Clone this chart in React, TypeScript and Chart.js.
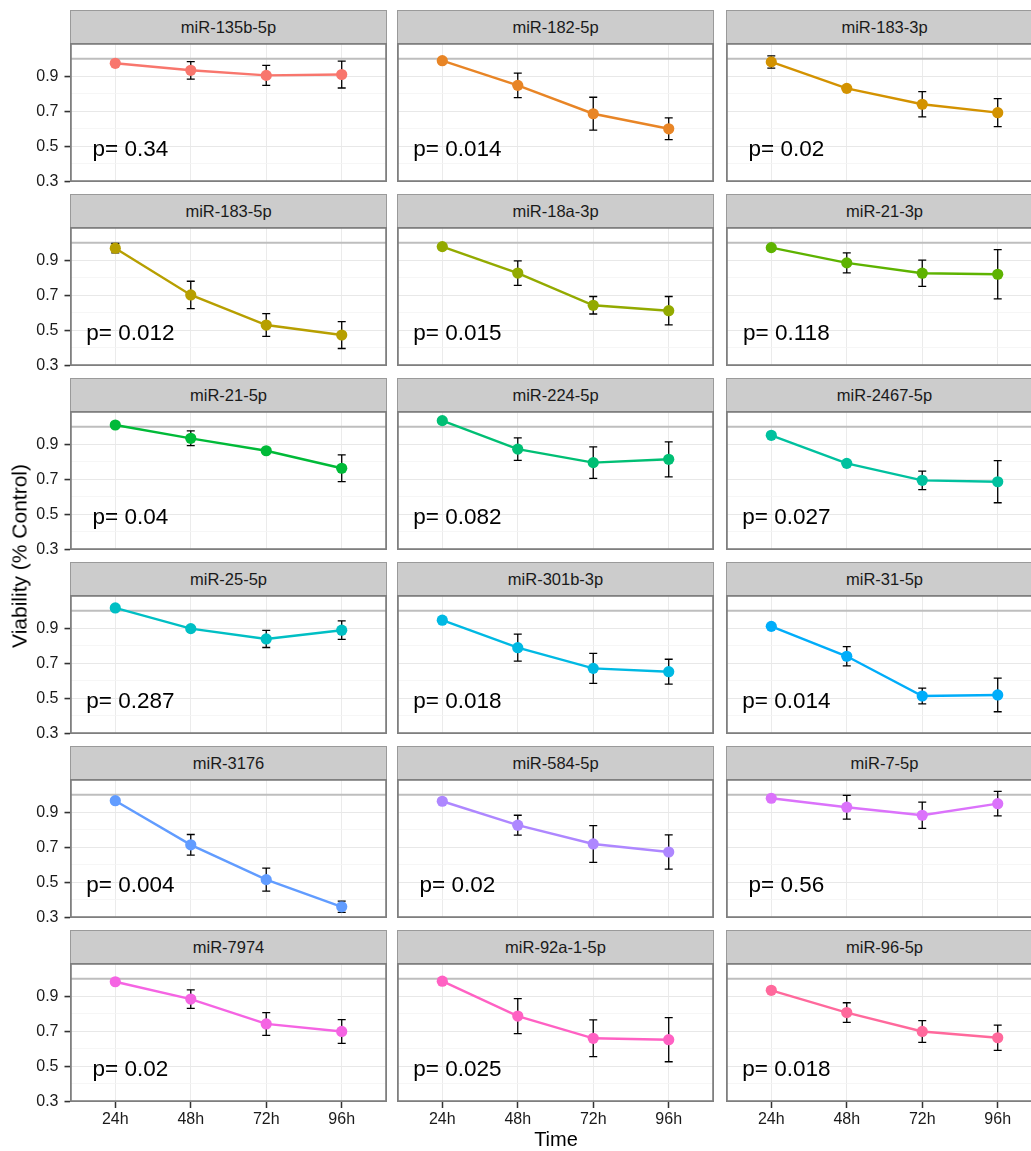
import React, { useEffect, useRef } from "react";
import { Chart, registerables } from "chart.js";

Chart.register(...registerables);

// ---------------- data ----------------
const timeLabels = ["24h", "48h", "72h", "96h"];

const mirNames = [
  "miR-135b-5p", "miR-182-5p", "miR-183-3p",
  "miR-183-5p", "miR-18a-3p", "miR-21-3p",
  "miR-21-5p", "miR-224-5p", "miR-2467-5p",
  "miR-25-5p", "miR-301b-3p", "miR-31-5p",
  "miR-3176", "miR-584-5p", "miR-7-5p",
  "miR-7974", "miR-92a-1-5p", "miR-96-5p",
];

const pLabels = [
  "0.34", "0.014", "0.02",
  "0.012", "0.015", "0.118",
  "0.04", "0.082", "0.027",
  "0.287", "0.018", "0.014",
  "0.004", "0.02", "0.56",
  "0.02", "0.025", "0.018",
];

const meanValues = [
  [0.974, 0.934, 0.905, 0.91],
  [0.989, 0.848, 0.686, 0.6],
  [0.982, 0.831, 0.74, 0.692],
  [0.969, 0.702, 0.53, 0.473],
  [0.978, 0.827, 0.643, 0.612],
  [0.972, 0.885, 0.826, 0.82],
  [1.01, 0.934, 0.863, 0.763],
  [1.035, 0.872, 0.795, 0.814],
  [0.951, 0.791, 0.694, 0.686],
  [1.016, 0.898, 0.839, 0.889],
  [0.946, 0.789, 0.671, 0.652],
  [0.911, 0.74, 0.513, 0.519],
  [0.966, 0.714, 0.515, 0.36],
  [0.963, 0.826, 0.719, 0.673],
  [0.98, 0.929, 0.883, 0.949],
  [0.983, 0.884, 0.742, 0.699],
  [0.986, 0.787, 0.66, 0.652],
  [0.934, 0.807, 0.699, 0.663],
];

const errValues = [
  [0.008, 0.05, 0.057, 0.077],
  [0.008, 0.07, 0.094, 0.062],
  [0.035, 0.008, 0.072, 0.08],
  [0.027, 0.078, 0.065, 0.077],
  [0.008, 0.07, 0.05, 0.081],
  [0.008, 0.057, 0.075, 0.141],
  [0.008, 0.042, 0.01, 0.076],
  [0.008, 0.064, 0.09, 0.1],
  [0.008, 0.01, 0.053, 0.12],
  [0.008, 0.01, 0.049, 0.053],
  [0.008, 0.077, 0.086, 0.071],
  [0.008, 0.055, 0.045, 0.096],
  [0.008, 0.059, 0.066, 0.032],
  [0.008, 0.057, 0.105, 0.098],
  [0.008, 0.068, 0.075, 0.07],
  [0.008, 0.053, 0.065, 0.068],
  [0.008, 0.1, 0.105, 0.126],
  [0.008, 0.056, 0.062, 0.072],
];

const yTickValues = [0.3, 0.4, 0.5, 0.6, 0.7, 0.8, 0.9, 1.0];
const yLabelValues = [0.3, 0.5, 0.7, 0.9];
const referenceLevel = 1.0;
const yTitle = "Viability (% Control)";
const xTitle = "Time";

// ---------------- style / layout ----------------
const FONT = '"Liberation Sans", Arial, Helvetica, sans-serif';
const PANEL_LEFT = [70, 397, 726];
const PANEL_W = 317;
const PANEL_H = 139;
const ROW_STEP = 184;
const STRIP_TOP0 = 10;
const STRIP_H = 33;
const Y_AXIS_W = 70;
const X_AXIS_H = 36;

// ggplot2 default hue palette (hcl, c=100, l=65)
function hcl(h: number, c: number, l: number): string {
  const hr = (h * Math.PI) / 180;
  const U = c * Math.cos(hr);
  const V = c * Math.sin(hr);
  const Y = l > 8 ? 100 * Math.pow((l + 16) / 116, 3) : (100 * l) / 903.3;
  const un = 0.1978398, vn = 0.4683363;
  const u = U / (13 * l) + un;
  const v = V / (13 * l) + vn;
  const X = (9 * Y * u) / (4 * v);
  const Z = -X / 3 - 5 * Y + (3 * Y) / v;
  const g = (x: number) => {
    const t = x > 0.00304 ? 1.055 * Math.pow(x, 1 / 2.4) - 0.055 : 12.92 * x;
    return Math.round(255 * Math.min(1, Math.max(0, t)));
  };
  const r = g((3.240479 * X - 1.53715 * Y - 0.498535 * Z) / 100);
  const gg = g((-0.969256 * X + 1.875992 * Y + 0.041556 * Z) / 100);
  const b = g((0.055648 * X - 0.204043 * Y + 1.057311 * Z) / 100);
  return `rgb(${r},${gg},${b})`;
}
function huePal(n: number): string[] {
  const out: string[] = [];
  const step = 360 / n;
  for (let i = 0; i < n; i++) out.push(hcl((15 + i * step) % 360, 100, 65));
  return out;
}
const seriesColors = huePal(mirNames.length);

const isMajor = (v: number) => yLabelValues.some((m) => Math.abs(m - v) < 1e-6);

const zeroPad = (s: any) => {
  s.paddingTop = 0;
  s.paddingBottom = 0;
  s.paddingLeft = 0;
  s.paddingRight = 0;
};

function Panel({ idx }: { idx: number }) {
  const ref = useRef<HTMLCanvasElement>(null);
  const row = Math.floor(idx / 3);
  const col = idx % 3;
  const firstCol = col === 0;
  const bottomRow = row === 5;

  useEffect(() => {
    const means = meanValues[idx];
    const errs = errValues[idx];
    const color = seriesColors[idx];

    const decor = {
      id: "decor",
      afterDatasetDraw(chart: any, args: any) {
        if (args.index !== 1) return;
        const xs = chart.scales.x;
        const ys = chart.scales.y;
        const ctx = chart.ctx;
        ctx.save();
        ctx.strokeStyle = "#000";
        ctx.lineWidth = 1.3;
        ctx.beginPath();
        means.forEach((m: number, i: number) => {
          const px = xs.getPixelForValue(i + 1);
          const t = ys.getPixelForValue(m + errs[i]);
          const b = ys.getPixelForValue(m - errs[i]);
          ctx.moveTo(px, t);
          ctx.lineTo(px, b);
          ctx.moveTo(px - 4, t);
          ctx.lineTo(px + 4, t);
          ctx.moveTo(px - 4, b);
          ctx.lineTo(px + 4, b);
        });
        ctx.stroke();
        ctx.restore();
      },
      afterDatasetsDraw(chart: any) {
        const xs = chart.scales.x;
        const ys = chart.scales.y;
        const ctx = chart.ctx;
        ctx.save();
        ctx.fillStyle = "#000";
        ctx.font = `22.5px ${FONT}`;
        ctx.textAlign = "center";
        ctx.textBaseline = "alphabetic";
        ctx.fillText("p= " + pLabels[idx], xs.getPixelForValue(1.2), ys.getPixelForValue(0.5) + 9.5);
        ctx.restore();
      },
      afterDraw(chart: any) {
        const a = chart.chartArea;
        const ctx = chart.ctx;
        ctx.save();
        ctx.strokeStyle = "#7F7F7F";
        ctx.lineWidth = 1.8;
        ctx.strokeRect(a.left + 0.9, a.top + 0.9, a.right - a.left - 1.8, a.bottom - a.top - 1.8);
        ctx.restore();
      },
    };

    const chart = new Chart(ref.current as HTMLCanvasElement, {
      type: "line",
      data: {
        datasets: [
          {
            data: means.map((m, i) => ({ x: i + 1, y: m })),
            borderColor: color,
            backgroundColor: color,
            pointBackgroundColor: color,
            pointBorderColor: color,
            borderWidth: 2.4,
            pointRadius: 5.6,
            pointBorderWidth: 0,
            order: 1,
          },
          {
            data: [
              { x: 0.4, y: referenceLevel },
              { x: 4.6, y: referenceLevel },
            ],
            borderColor: "#BEBEBE",
            borderWidth: 2.2,
            pointRadius: 0,
            order: 2,
          },
        ],
      } as any,
      options: {
        animation: false,
        responsive: false,
        events: [],
        layout: { padding: 0, autoPadding: false },
        plugins: { legend: { display: false }, tooltip: { enabled: false }, title: { display: false } },
        scales: {
          x: {
            type: "linear",
            min: 0.4,
            max: 4.6,
            afterBuildTicks: (s: any) => {
              s.ticks = timeLabels.map((_, i) => ({ value: i + 1 }));
            },
            afterFit: (s: any) => {
              s.height = X_AXIS_H;
              zeroPad(s);
            },
            border: { display: false },
            grid: {
              color: "#EBEBEB",
              lineWidth: 1,
              drawTicks: true,
              tickLength: 6,
              tickWidth: 1.5,
              tickColor: bottomRow ? "#333333" : "rgba(0,0,0,0)",
            },
            ticks: {
              display: bottomRow,
              autoSkip: false,
              maxRotation: 0,
              padding: 2,
              color: "#1A1A1A",
              font: { family: FONT, size: 16 },
              callback: (v: any) => timeLabels[Math.round(Number(v)) - 1] ?? "",
            },
          },
          y: {
            type: "linear",
            min: 0.296,
            max: 1.09,
            afterBuildTicks: (s: any) => {
              s.ticks = yTickValues.map((v) => ({ value: v }));
            },
            afterFit: (s: any) => {
              s.width = Y_AXIS_W;
              zeroPad(s);
            },
            border: { display: false },
            grid: {
              color: (c: any) => (c.tick && isMajor(c.tick.value) ? "#E8E8E8" : "#F4F4F4"),
              lineWidth: (c: any) => (c.tick && isMajor(c.tick.value) ? 1.1 : 0.8),
              drawTicks: true,
              tickLength: 5.5,
              tickWidth: 1.6,
              tickColor: (c: any) =>
                firstCol && c.tick && isMajor(c.tick.value) ? "#333333" : "rgba(0,0,0,0)",
            },
            ticks: {
              display: firstCol,
              autoSkip: false,
              padding: 6,
              color: "#1A1A1A",
              font: { family: FONT, size: 16 },
              callback: (v: any) => (isMajor(Number(v)) ? Number(v).toFixed(1) : ""),
            },
          },
        },
      } as any,
      plugins: [decor],
    });
    return () => chart.destroy();
  }, [idx]);

  return (
    <canvas
      ref={ref}
      width={Y_AXIS_W + PANEL_W}
      height={PANEL_H + X_AXIS_H}
      style={{
        position: "absolute",
        left: PANEL_LEFT[col] - Y_AXIS_W,
        top: STRIP_TOP0 + STRIP_H + row * ROW_STEP,
        width: Y_AXIS_W + PANEL_W,
        height: PANEL_H + X_AXIS_H,
      }}
    />
  );
}

export default function App() {
  return (
    <div
      style={{
        position: "absolute",
        left: 0,
        top: 0,
        width: 1031,
        height: 1151,
        overflow: "hidden",
        background: "#fff",
        fontFamily: FONT,
      }}
    >
      {mirNames.map((name, i) => {
        const row = Math.floor(i / 3);
        const col = i % 3;
        return (
          <div
            key={"s" + i}
            style={{
              position: "absolute",
              left: PANEL_LEFT[col],
              top: STRIP_TOP0 + row * ROW_STEP,
              width: PANEL_W,
              height: STRIP_H,
              boxSizing: "border-box",
              background: "#CCCCCC",
              border: "1px solid #9A9A9A",
              borderBottom: "none",
              display: "flex",
              alignItems: "center",
              justifyContent: "center",
              fontSize: 16.5,
              color: "#1A1A1A",
              whiteSpace: "nowrap",
            }}
          >
            {name}
          </div>
        );
      })}
      {mirNames.map((_, i) => (
        <Panel key={"p" + i} idx={i} />
      ))}
      <div
        style={{
          position: "absolute",
          left: 19,
          top: 556,
          transform: "translate(-50%, -50%) rotate(-90deg)",
          fontSize: 21,
          lineHeight: "21px",
          color: "#000",
          whiteSpace: "nowrap",
        }}
      >
        {yTitle}
      </div>
      <div
        style={{
          position: "absolute",
          left: 556,
          top: 1139,
          transform: "translate(-50%, -50%)",
          fontSize: 20,
          lineHeight: "20px",
          color: "#000",
          whiteSpace: "nowrap",
        }}
      >
        {xTitle}
      </div>
    </div>
  );
}
